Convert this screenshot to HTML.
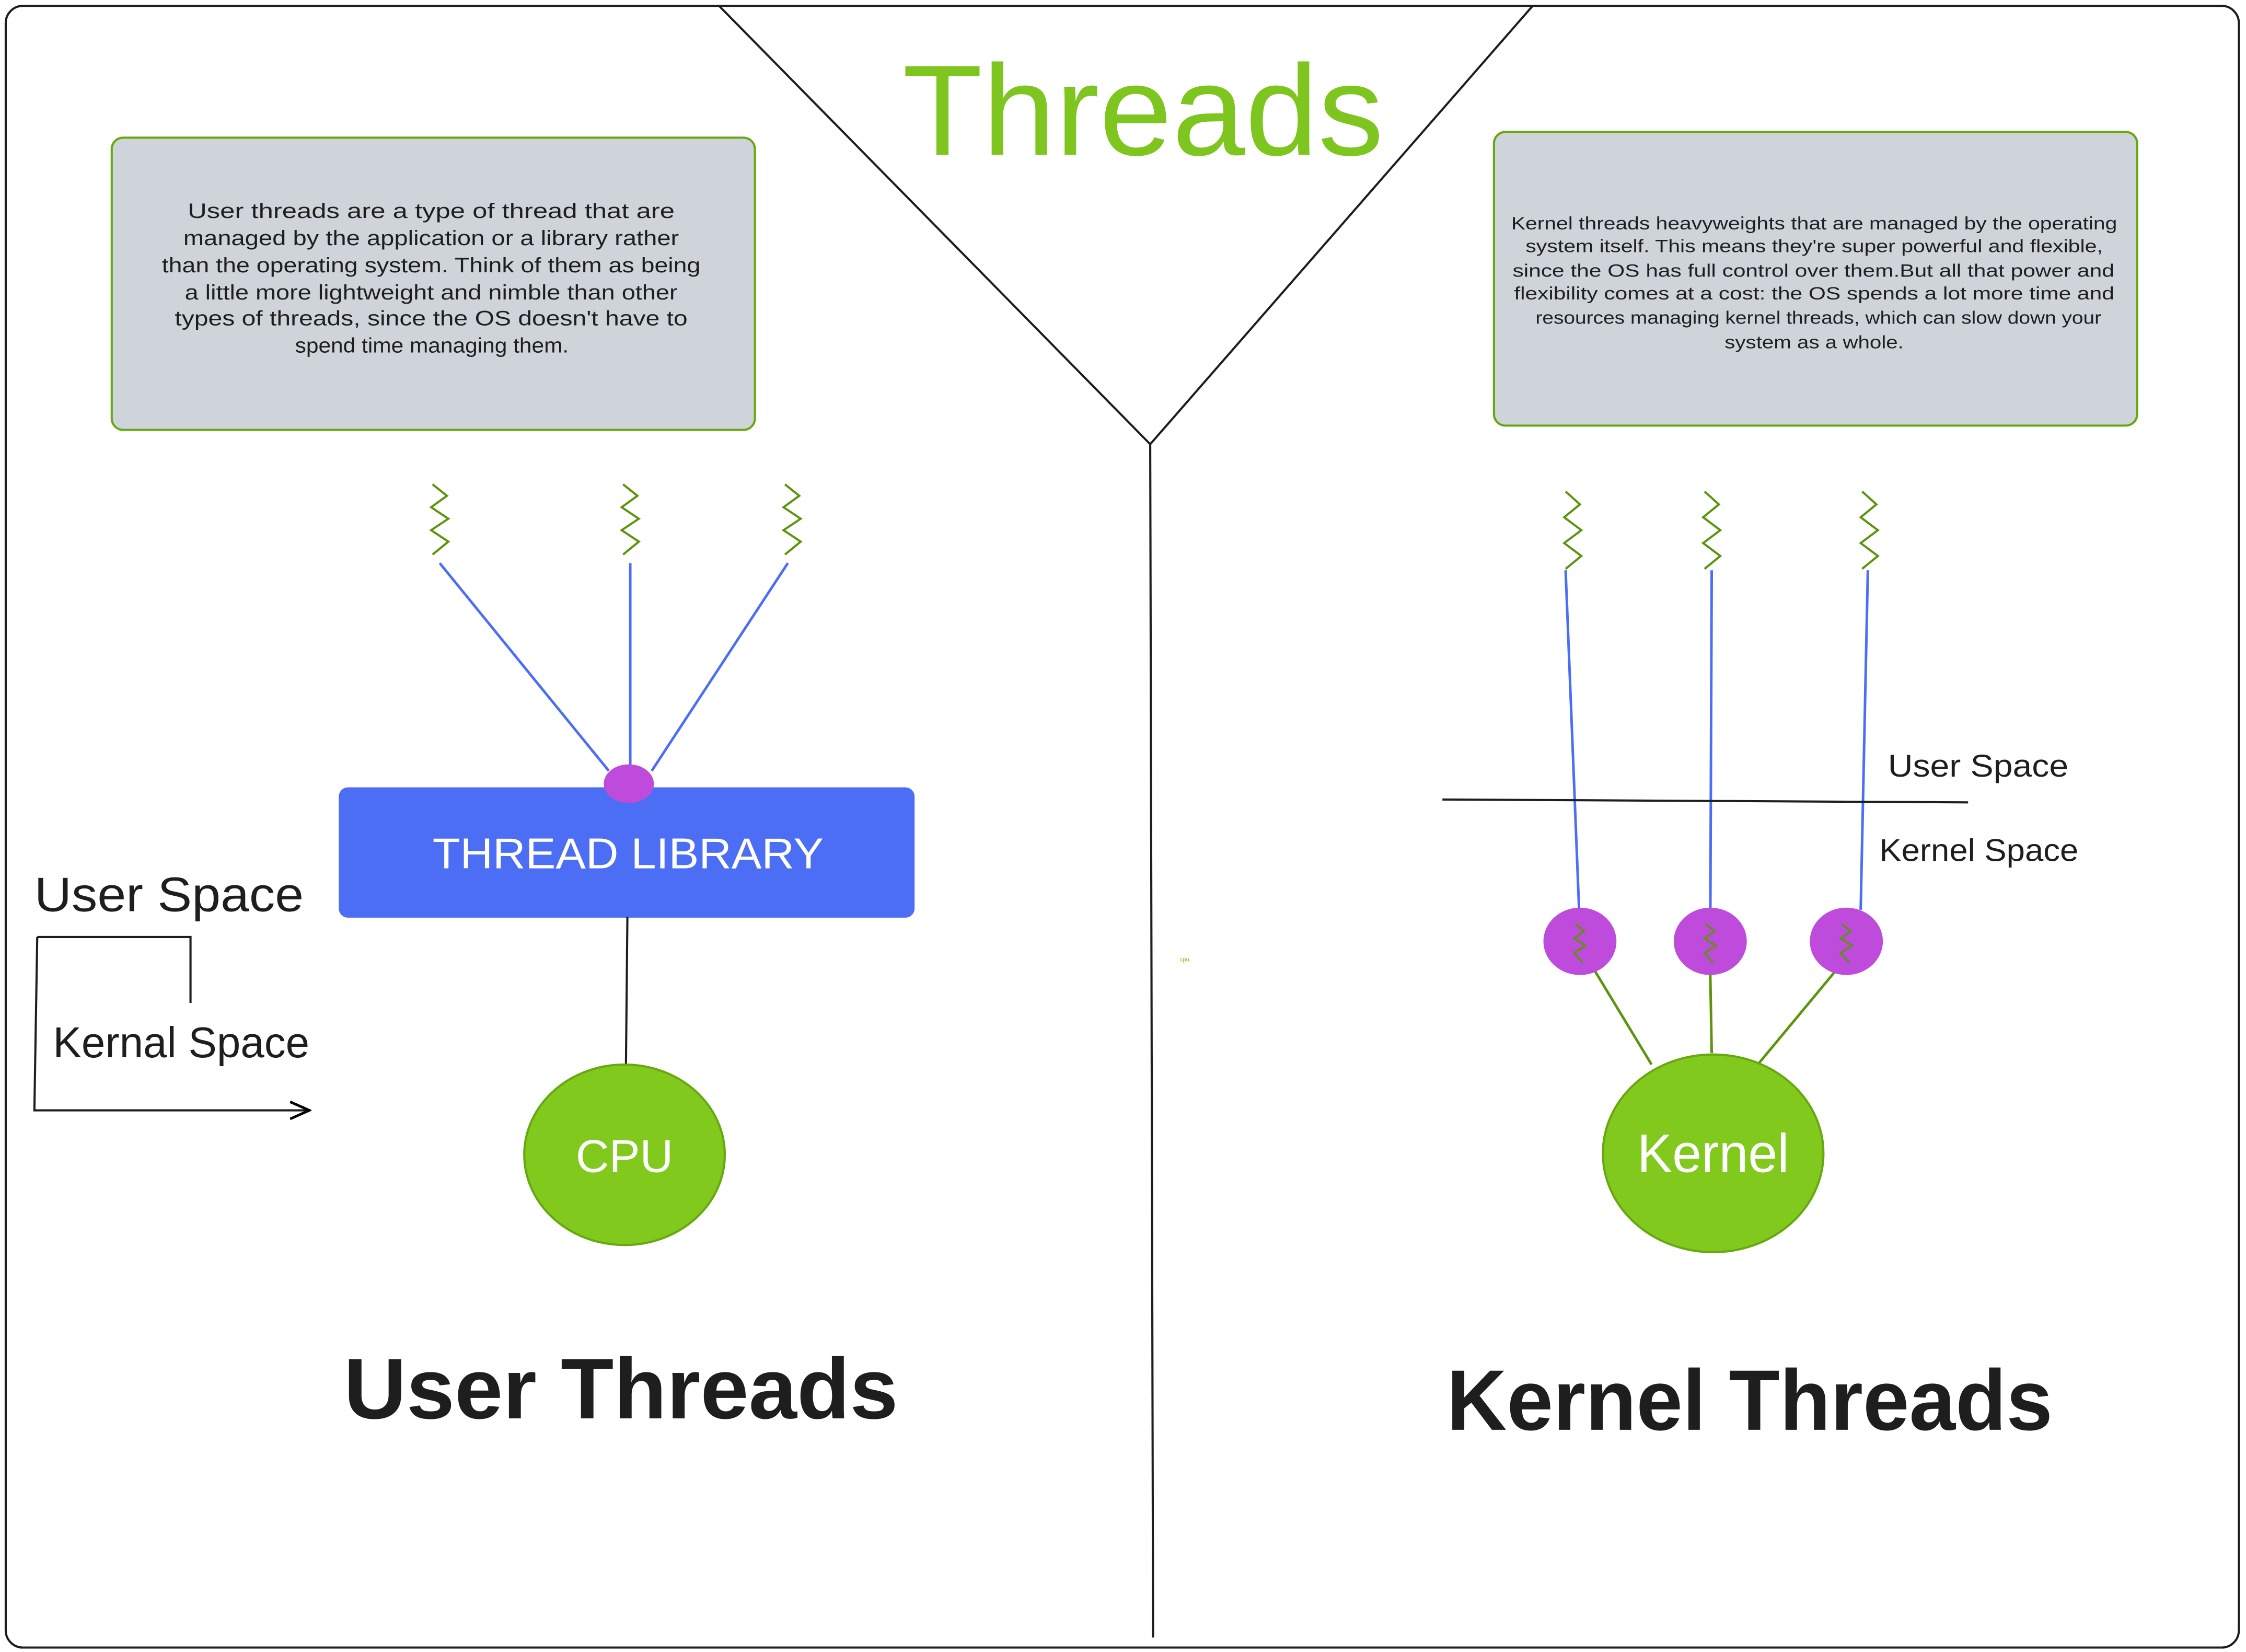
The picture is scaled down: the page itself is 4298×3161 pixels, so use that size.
<!DOCTYPE html>
<html><head><meta charset="utf-8"><style>
html,body{margin:0;padding:0;background:#fff;}
svg{display:block;}
text{font-family:"Liberation Sans",sans-serif;}
</style></head><body>
<svg width="4298" height="3161" viewBox="0 0 1568 1153" xmlns="http://www.w3.org/2000/svg">
<defs><marker id="ar" markerWidth="10" markerHeight="10" refX="9" refY="5" orient="auto"><path d="M0,1 L9,5 L0,9" fill="none" stroke="#000" stroke-width="1.2"/></marker></defs>
<rect x="4" y="4" width="1559" height="1146" rx="12" fill="#fff" stroke="#1e1e1e" stroke-width="1.5"/>
<polyline points="502,4 803,310 1070,4" fill="none" stroke="#1e1e1e" stroke-width="1.5"/>
<line x1="803" y1="310" x2="805" y2="1143" stroke="#1e1e1e" stroke-width="1.5"/>
<text x="630" y="108" font-size="90" fill="#7ec51f" textLength="336" lengthAdjust="spacingAndGlyphs">Threads</text>

<rect x="78" y="96" width="449" height="204" rx="8" fill="#ced4da" stroke="#66a80f" stroke-width="1.5"/>
<g font-size="14.5" fill="#1e1e1e">
<text x="131" y="152" textLength="340" lengthAdjust="spacingAndGlyphs">User threads are a type of thread that are</text>
<text x="128" y="171" textLength="346" lengthAdjust="spacingAndGlyphs">managed by the application or a library rather</text>
<text x="113" y="190" textLength="376" lengthAdjust="spacingAndGlyphs">than the operating system. Think of them as being</text>
<text x="129" y="209" textLength="344" lengthAdjust="spacingAndGlyphs">a little more lightweight and nimble than other</text>
<text x="122" y="227" textLength="358" lengthAdjust="spacingAndGlyphs">types of threads, since the OS doesn't have to</text>
<text x="206" y="246" textLength="191" lengthAdjust="spacingAndGlyphs">spend time managing them.</text>
</g>
<rect x="1043" y="92" width="449" height="205" rx="8" fill="#ced4da" stroke="#66a80f" stroke-width="1.5"/>
<g font-size="12.5" fill="#1e1e1e">
<text x="1055" y="160" textLength="423" lengthAdjust="spacingAndGlyphs">Kernel threads heavyweights that are managed by the operating</text>
<text x="1065" y="176" textLength="403" lengthAdjust="spacingAndGlyphs">system itself. This means they're super powerful and flexible,</text>
<text x="1056" y="193" textLength="420" lengthAdjust="spacingAndGlyphs">since the OS has full control over them.But all that power and</text>
<text x="1057" y="209" textLength="419" lengthAdjust="spacingAndGlyphs">flexibility comes at a cost: the OS spends a lot more time and</text>
<text x="1072" y="226" textLength="395" lengthAdjust="spacingAndGlyphs">resources managing kernel threads, which can slow down your</text>
<text x="1204" y="243" textLength="125" lengthAdjust="spacingAndGlyphs">system as a whole.</text>
</g>

<g fill="none" stroke="#5c940d" stroke-width="1.5">
<polyline points="302,338 312,346 301,354 313,362 301,370 313,378 302,387"/>
<polyline points="435,338 445,346 434,354 446,362 434,370 446,378 435,387"/>
<polyline points="548,338 558,346 547,354 559,362 547,370 559,378 548,387"/>
<polyline points="1093,343 1103,352 1092,361 1104,370 1092,379 1104,388 1093,397"/>
<polyline points="1190,343 1200,352 1189,361 1201,370 1189,379 1201,388 1190,397"/>
<polyline points="1300,343 1310,352 1299,361 1311,370 1299,379 1311,388 1300,397"/>
</g>
<g stroke="#4c6ef5" stroke-width="1.8">
<line x1="307" y1="393" x2="425" y2="538"/>
<line x1="440" y1="393" x2="440" y2="536"/>
<line x1="550" y1="393" x2="455" y2="538"/>
<line x1="1093" y1="398" x2="1103" y2="650"/>
<line x1="1195" y1="398" x2="1194" y2="650"/>
<line x1="1304" y1="398" x2="1299" y2="635"/>
</g>
<rect x="237" y="550" width="401" height="90" rx="6" fill="#4c6ef5" stroke="#4c6ef5"/>
<ellipse cx="439" cy="547" rx="17" ry="13" fill="#be4bdb" stroke="#be4bdb"/>
<text x="302" y="606" font-size="30" fill="#fff" textLength="273" lengthAdjust="spacingAndGlyphs">THREAD LIBRARY</text>
<line x1="438" y1="640" x2="437" y2="743" stroke="#1e1e1e" stroke-width="1.5"/>
<ellipse cx="436" cy="806" rx="70" ry="63" fill="#82c91e" stroke="#66a80f" stroke-width="1.5"/>
<text x="402" y="818" font-size="32" fill="#fff" textLength="68" lengthAdjust="spacingAndGlyphs">CPU</text>

<text x="24" y="636" font-size="34" fill="#1e1e1e" textLength="188" lengthAdjust="spacingAndGlyphs">User Space</text>
<polyline points="26,654 133,654 133,700" fill="none" stroke="#1e1e1e" stroke-width="1.5"/>
<polyline points="26,654 24,775 216,775" fill="none" stroke="#1e1e1e" stroke-width="1.5" marker-end="url(#ar)"/>
<text x="37" y="738" font-size="30" fill="#1e1e1e" textLength="179" lengthAdjust="spacingAndGlyphs">Kernal Space</text>
<text x="240" y="990" font-size="60" fill="#1e1e1e" font-weight="bold" textLength="387" lengthAdjust="spacingAndGlyphs">User Threads</text>

<line x1="1007" y1="558" x2="1374" y2="560" stroke="#1e1e1e" stroke-width="1.5"/>
<text x="1318" y="542" font-size="22" fill="#1e1e1e" textLength="126" lengthAdjust="spacingAndGlyphs">User Space</text>
<text x="1312" y="601" font-size="22" fill="#1e1e1e" textLength="139" lengthAdjust="spacingAndGlyphs">Kernel Space</text>

<g stroke="#5c940d" stroke-width="1.8">
<line x1="1110" y1="672" x2="1153" y2="743"/>
<line x1="1194" y1="680" x2="1195" y2="735"/>
<line x1="1282" y1="677" x2="1228" y2="742"/>
</g>
<g fill="#be4bdb" stroke="#be4bdb">
<ellipse cx="1103" cy="657" rx="25" ry="23"/>
<ellipse cx="1194" cy="657" rx="25" ry="23"/>
<ellipse cx="1289" cy="657" rx="25" ry="23"/>
</g>
<g fill="none" stroke="#5c940d" stroke-width="1.3">
<polyline points="1100,645 1106,650 1099,655 1107,660 1099,665 1105,672"/>
<polyline points="1191,645 1197,650 1190,655 1198,660 1190,665 1196,672"/>
<polyline points="1286,645 1292,650 1285,655 1293,660 1285,665 1291,672"/>
</g>
<ellipse cx="1196" cy="805" rx="77" ry="69" fill="#82c91e" stroke="#66a80f" stroke-width="1.5"/>
<text x="1143" y="818" font-size="38" fill="#fff" textLength="106" lengthAdjust="spacingAndGlyphs">Kernel</text>
<text x="1010" y="998" font-size="60" fill="#1e1e1e" font-weight="bold" textLength="423" lengthAdjust="spacingAndGlyphs">Kernel Threads</text>
<text x="827" y="671" font-size="4" fill="#7ec51f" text-anchor="middle">cpu</text>
</svg>
</body></html>
